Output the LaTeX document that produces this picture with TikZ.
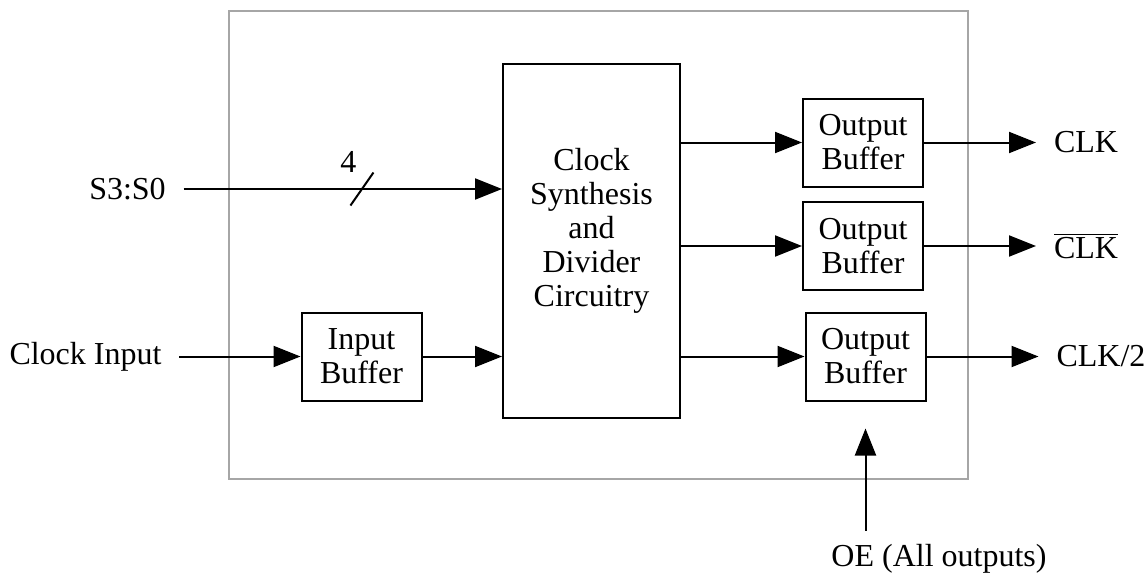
\documentclass[tikz,border=0pt]{standalone}
\usepackage{fontspec}
\setmainfont{Liberation Serif}
\usepackage{tikz}
\usetikzlibrary{arrows.meta,positioning}

\begin{document}
\begin{tikzpicture}[x=0.5pt, y=-0.5pt, font=\fontsize{16}{17}\selectfont,
  blk/.style = {draw, line width=1pt, align=center, inner sep=0pt},
  buf/.style = {blk, minimum width=60pt, minimum height=44pt},
  sig/.style = {inner sep=0pt, outer sep=9pt},
  wire/.style = {-{Triangle[length=13.5pt,width=10.5pt]}, line width=1pt}]
\useasboundingbox (0,0) rectangle (1146,575);
\node[draw=black!35, line width=0.9pt, minimum width=369.5pt, minimum height=234pt] (chip) at (598.5,245) {};
\node[blk, minimum width=88.5pt, minimum height=177pt] (synth) at (591.5,241) {};
\node[align=center] (synthtxt) at ([yshift=5pt]synth.center) {Clock\\Synthesis\\and\\Divider\\Circuitry};
\node[buf] (inbuf) at (361.5,356.5) {Input\\Buffer};
\node[buf] (ob1) at (863,142.5) {Output\\Buffer};
\node[buf] (ob2) at (863,246) {Output\\Buffer};
\node[buf] (ob3) at (865.5,356.5) {Output\\Buffer};
\node[sig] (sel) at (127.5,189) {S3:S0};
\node[sig] (clkin) at (85.5,356.5) {Clock Input};
\node[sig, right=56pt of ob1] (clk) {CLK};
\node[sig, right=56pt of ob2] (clkn) {$\overline{\mbox{CLK}}$};
\node[sig, right=56pt of ob3] (half) {CLK/2};
\node[sig, outer sep=7pt] (oe) at (939,559) {OE (All outputs)};
% select bus
\draw[wire] (sel) -- coordinate[pos=0.56] (bus) (sel -| synth.west);
\draw[line width=1pt] ([shift={(-5.75pt,-8.25pt)}]bus) -- ([shift={(5.75pt,8.25pt)}]bus);
\node (width) at ([shift={(-6.75pt,13.5pt)}]bus) {4};
% clock in
\draw[wire] (clkin) -- (inbuf);
\draw[wire] (inbuf) -- (inbuf -| synth.west);
% outputs
\draw[wire] (synth.east |- ob1.west) -- (ob1.west);
\draw[wire] (synth.east |- ob2.west) -- (ob2.west);
\draw[wire] (synth.east |- ob3.west) -- (ob3.west);
\draw[wire] (ob1) -- (clk);
\draw[wire] (ob2) -- (clkn);
\draw[wire] (ob3) -- (half);
\draw[wire, shorten >=13.5pt] (oe.north -| ob3.south) -- (ob3.south);
\end{tikzpicture}
\end{document}
